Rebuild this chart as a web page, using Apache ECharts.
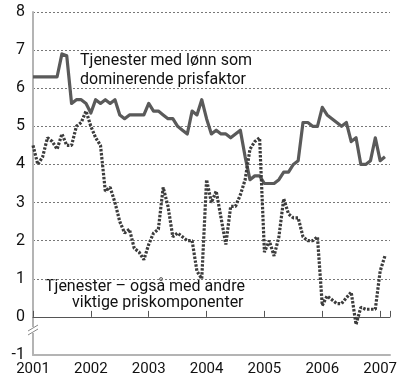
<!DOCTYPE html>
<html>
<head>
<meta charset="utf-8">
<script src="https://cdn.jsdelivr.net/npm/echarts@6/dist/echarts.min.js"></script>
<style>html,body{margin:0;padding:0;background:#fff}#c{width:400px;height:381px}</style>
</head>
<body>
<div id="c"></div>
<script>
// Monthly observations, Jan 2001 .. Feb 2007
const startYear = 2001;
const lonnSeries = [6.3,6.3,6.3,6.3,6.3,6.3,6.9,6.85,5.6,5.7,5.7,5.6,5.35,5.7,5.6,5.7,5.6,5.7,5.3,5.2,5.3,5.3,5.3,5.3,5.6,5.4,5.4,5.3,5.2,5.2,5.0,4.9,4.8,5.4,5.3,5.7,5.2,4.8,4.9,4.8,4.8,4.7,4.8,4.9,4.2,3.6,3.7,3.7,3.5,3.5,3.5,3.6,3.8,3.8,4.0,4.1,5.1,5.1,5.0,5.0,5.5,5.3,5.2,5.1,5.0,5.1,4.6,4.7,4.0,4.0,4.1,4.7,4.1,4.2];
const andreSeries = [4.5,4.0,4.2,4.7,4.6,4.4,4.8,4.5,4.5,5.0,5.1,5.4,5.0,4.7,4.5,3.3,3.4,3.0,2.5,2.2,2.3,1.8,1.7,1.5,1.9,2.2,2.3,3.4,2.9,2.1,2.2,2.1,2.0,2.0,1.2,1.0,3.6,3.0,3.3,2.6,1.9,2.9,2.9,3.2,3.6,4.4,4.6,4.7,1.7,2.0,1.6,2.1,3.1,2.7,2.6,2.6,2.1,2.0,2.0,2.1,0.3,0.55,0.45,0.35,0.35,0.5,0.65,-0.2,0.25,0.2,0.2,0.2,1.2,1.6];
const yearTicks = [2001,2002,2003,2004,2005,2006,2007];
const yTicks = [-1,0,1,2,3,4,5,6,7,8];
const lonnLabel = ['Tjenester med lønn som','dominerende prisfaktor'];
const andreLabel = ['Tjenester – også med andre','viktige priskomponenter'];

const toPts = arr => arr.map((v,i)=>[startYear + i/12, v]);
const FONT = 'Roboto';
const chart = echarts.init(document.getElementById('c'));
const xMin = yearTicks[0], xMax = 2007.17;
chart.setOption({
  animation:false,
  grid:{left:33,right:7,top:12,bottom:26,containLabel:false},
  xAxis:[{
    type:'value',min:xMin,max:xMax,interval:1,position:'bottom',
    axisLine:{onZero:false,lineStyle:{color:'#b4b4b4',width:2}},
    axisTick:{show:false},splitLine:{show:false},
    axisLabel:{color:'#111',fontFamily:FONT,fontSize:15,margin:7,
      formatter:v=> yearTicks.includes(Math.round(v*1000)/1000) ? String(v) : ''}
  },{
    type:'value',min:xMin,max:xMax,interval:1,position:'bottom',
    axisLine:{onZero:true,lineStyle:{color:'#555',width:1}},
    axisTick:{show:true,inside:true,length:6,lineStyle:{color:'#555'}},
    axisLabel:{show:false},splitLine:{show:false}
  }],
  yAxis:{
    type:'value',min:yTicks[0],max:yTicks[yTicks.length-1],interval:1,
    axisLine:{show:true,lineStyle:{color:'#b4b4b4',width:2}},
    axisTick:{show:false},
    axisLabel:{color:'#111',fontFamily:FONT,fontSize:16,margin:8},
    splitLine:{show:true,lineStyle:{color:'#777',type:[2,2],width:1}}
  },
  series:[{
    name:lonnLabel.join(' '),type:'line',xAxisIndex:0,data:toPts(lonnSeries),
    showSymbol:false,lineStyle:{color:'#5a5a5a',width:3.2,join:'round'},z:3
  },{
    name:andreLabel.join(' '),type:'line',xAxisIndex:0,data:toPts(andreSeries),
    showSymbol:false,lineStyle:{color:'#3c3c3c',width:3.2,type:[2.5,1.5]},z:4
  }],
  graphic:[
    {type:'text',left:80,top:53,style:{text:lonnLabel[0],font:'16px '+FONT,fill:'#111'}},
    {type:'text',left:80,top:72,style:{text:lonnLabel[1],font:'16px '+FONT,fill:'#111'}},
    {type:'text',left:45,top:279,style:{text:andreLabel[0],font:'16px '+FONT,fill:'#111'}},
    {type:'text',left:72,top:295,style:{text:andreLabel[1],font:'16px '+FONT,fill:'#111'}},
    {type:'rect',shape:{x:30,y:327,width:6,height:6},style:{fill:'#fff'},z:10},
    {type:'line',shape:{x1:28,y1:331,x2:38,y2:325},style:{stroke:'#888',lineWidth:1},z:11},
    {type:'line',shape:{x1:28,y1:335,x2:38,y2:329},style:{stroke:'#888',lineWidth:1},z:11}
  ]
});
</script>
</body>
</html>
